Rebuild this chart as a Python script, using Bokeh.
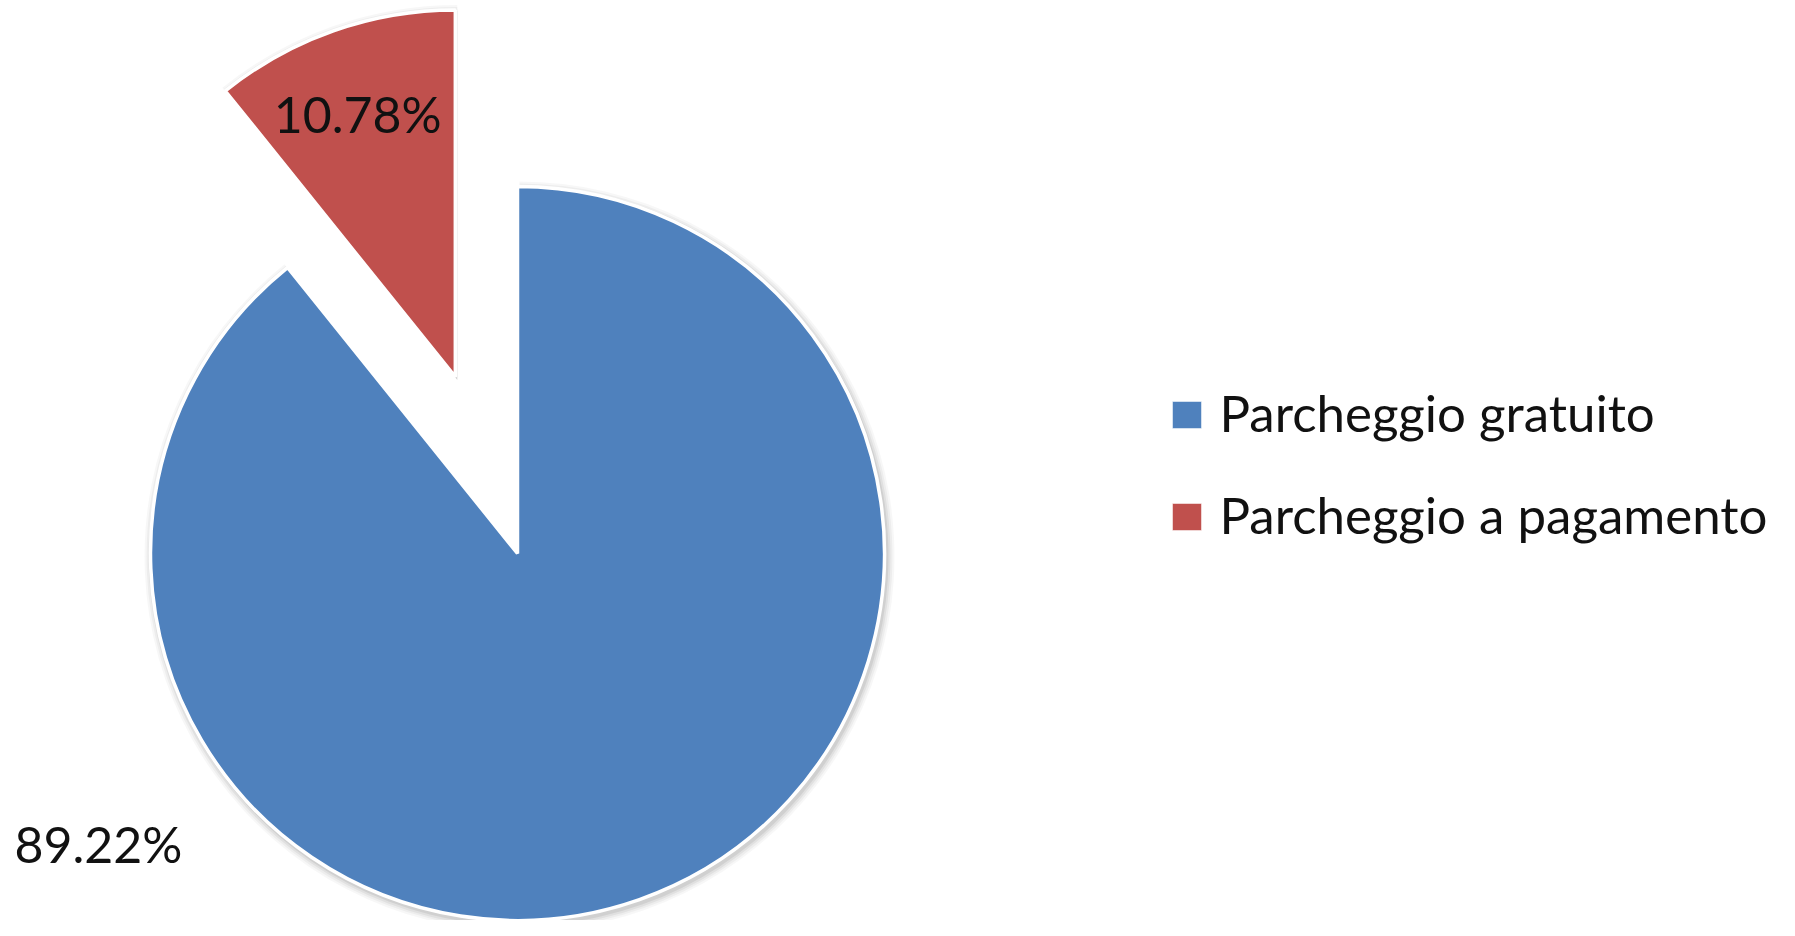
import math
from bokeh.plotting import figure
from bokeh.models import Range1d, ColumnDataSource
from bokeh.core.properties import value
from bokeh.embed import file_html
from bokeh.resources import INLINE

# ---- data ----
categories = ["Parcheggio gratuito", "Parcheggio a pagamento"]
percentages = [89.22, 10.78]
pct_labels = ["89.22%", "10.78%"]
colors = ["#4F81BD", "#C0504D"]
explode = [0.0, 0.51]

# ---- layout / style (screen pixel coordinates of the page) ----
W, H = 1795, 936
def sy(y):  # screen y (top-down) -> data y (bottom-up)
    return H - y

CX, CY, R = 517, sy(553), 367
FONT = value("Lato")
TXT_SHIFT = 17  # baseline correction

p = figure(width=W - 16, height=H - 16, output_backend="svg", toolbar_location=None,
           x_range=Range1d(0, W - 16), y_range=Range1d(16, H),
           x_axis_location=None, y_axis_location=None, min_border=0)
p.grid.visible = False
p.outline_line_color = None
p.background_fill_color = "white"
p.border_fill_color = "white"

total = sum(percentages)
starts, ends, xs, ys, mids = [], [], [], [], []
cum = 0.0
for v, ex in zip(percentages, explode):
    a0 = math.radians(90 - 360 * cum / total)
    cum += v
    a1 = math.radians(90 - 360 * cum / total)
    mid = (a0 + a1) / 2
    starts.append(a1)
    ends.append(a0)
    mids.append(mid)
    xs.append(CX + ex * R * math.cos(mid))
    ys.append(CY + ex * R * math.sin(mid))

src = ColumnDataSource(dict(x=xs, y=ys, start=starts, end=ends, color=colors,
                            cat=categories, pct=percentages))

# soft shadow
for k, a in [(8, 0.03), (6, 0.04), (4, 0.05), (2, 0.07)]:
    shadow = ColumnDataSource(dict(x=[x + 2 for x in xs], y=[y - 3 for y in ys],
                                   start=starts, end=ends))
    p.wedge(x="x", y="y", radius=R + k, start_angle="start", end_angle="end",
            source=shadow, fill_color="black", fill_alpha=a, line_color=None)

p.wedge(x="x", y="y", radius=R, start_angle="start", end_angle="end", source=src,
        fill_color="color", line_color="white", line_width=3.5)

# percentage labels
# red label: inside the exploded slice along its bisector; blue label: best-fit outside left
lab_x = [98, xs[1] + 0.76 * R * math.cos(mids[1]) - 5]
lab_y = [sy(860) + TXT_SHIFT, ys[1] + 0.76 * R * math.sin(mids[1]) - 17 + TXT_SHIFT]
p.text(x=lab_x, y=lab_y, text=pct_labels, text_font=FONT, text_font_size="50px",
       text_color="#111111", text_align="center", text_baseline="alphabetic")

# legend (manual)
leg_x = 1186.5
leg_y0 = sy(414.5)
leg_step = 102
leg_ys = [leg_y0 - i * leg_step for i in range(len(categories))]
p.rect(x=[leg_x] * len(categories), y=leg_ys, width=29, height=27,
       width_units="screen", height_units="screen", fill_color=colors,
       line_color="white", line_alpha=0.5, line_width=1)
p.text(x=[1219] * len(categories), y=[y - 14.5 + TXT_SHIFT for y in leg_ys], text=categories,
       text_font=FONT, text_font_size="51px", text_color="#111111",
       text_align="left", text_baseline="alphabetic")

open("out.html", "w").write(file_html(p, INLINE))
